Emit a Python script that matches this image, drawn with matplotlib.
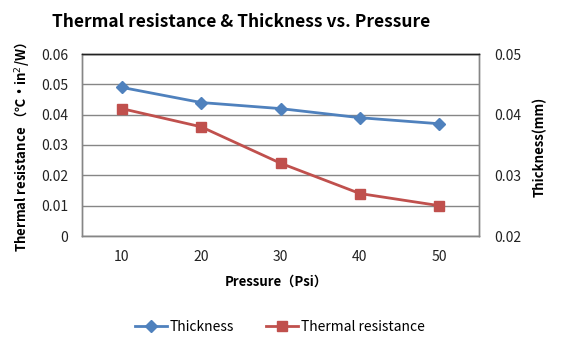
import matplotlib
matplotlib.use('Agg')
import matplotlib.pyplot as plt

plt.rcParams['font.family'] = ['Noto Sans CJK SC', 'DejaVu Sans']

pressure = ['10', '20', '30', '40', '50']
thickness = [0.049, 0.044, 0.042, 0.039, 0.037]
thermal_resistance = [0.041, 0.038, 0.032, 0.027, 0.025]

left_ticks = [0, 0.01, 0.02, 0.03, 0.04, 0.05, 0.06]
left_labels = ['0', '0.01', '0.02', '0.03', '0.04', '0.05', '0.06']
right_ticks = [0.02, 0.03, 0.04, 0.05]
right_labels = ['0.02', '0.03', '0.04', '0.05']

blue = '#4F81BD'
red = '#C0504D'
grid_gray = '#868686'

fig = plt.figure(figsize=(5.67, 3.43), dpi=100)
ax = fig.add_axes([82 / 567, 1 - 236 / 343, 397 / 567, 182 / 343])
ax2 = ax.twinx()

x = list(range(len(pressure)))
l1, = ax.plot(x, thickness, color=blue, lw=2.0, marker='D', markersize=6.5,
              label='Thickness')
l2, = ax2.plot(x, thermal_resistance, color=red, lw=2.0, marker='s', markersize=7,
               label='Thermal resistance')

ax.set_xlim(-0.5, len(pressure) - 0.5)
ax.set_ylim(0, 0.06)
ax2.set_ylim(0.02, 0.05)

ax.set_yticks(left_ticks)
ax.set_yticklabels(left_labels)
ax2.set_yticks(right_ticks)
ax2.set_yticklabels(right_labels)
ax.set_xticks(x)
ax.set_xticklabels(pressure)

ax.yaxis.grid(True, color=grid_gray, lw=1.0)
ax.set_axisbelow(True)
ax.tick_params(axis='y', length=0, pad=10, labelsize=10, labelcolor='#222222')
ax.tick_params(axis='x', length=0, pad=10, labelsize=10, labelcolor='#222222')
ax2.tick_params(axis='y', length=0, pad=11, labelsize=10, labelcolor='#222222')

for a in (ax, ax2):
    for side in ('left', 'right', 'bottom'):
        a.spines[side].set_color(grid_gray)
        a.spines[side].set_linewidth(1.0)
    a.spines['top'].set_color('#222222')
    a.spines['top'].set_linewidth(1.0)

fig.text(241 / 567, 1 - 22 / 343, 'Thermal resistance & Thickness vs. Pressure',
         ha='center', va='center', fontsize=12.5, fontweight='bold')
fig.text(22 / 567, 1 - 147 / 343, 'Thermal resistance （℃·in$^2$/W）',
         rotation=90, ha='center', va='center', fontsize=9.5, fontweight='bold')
fig.text(540 / 567, 1 - 147 / 343, 'Thickness(mm)',
         rotation=90, ha='center', va='center', fontsize=9.5, fontweight='bold')
fig.text(276 / 567, 1 - 282 / 343, 'Pressure（Psi）',
         ha='center', va='center', fontsize=9.5, fontweight='bold')

fig.legend(handles=[l1, l2], loc='center', bbox_to_anchor=(280 / 567, 1 - 327 / 343),
           ncol=2, frameon=False, fontsize=10, handlelength=2.3,
           handletextpad=0.2, columnspacing=2.3)

fig.savefig('out.png', dpi=100)
